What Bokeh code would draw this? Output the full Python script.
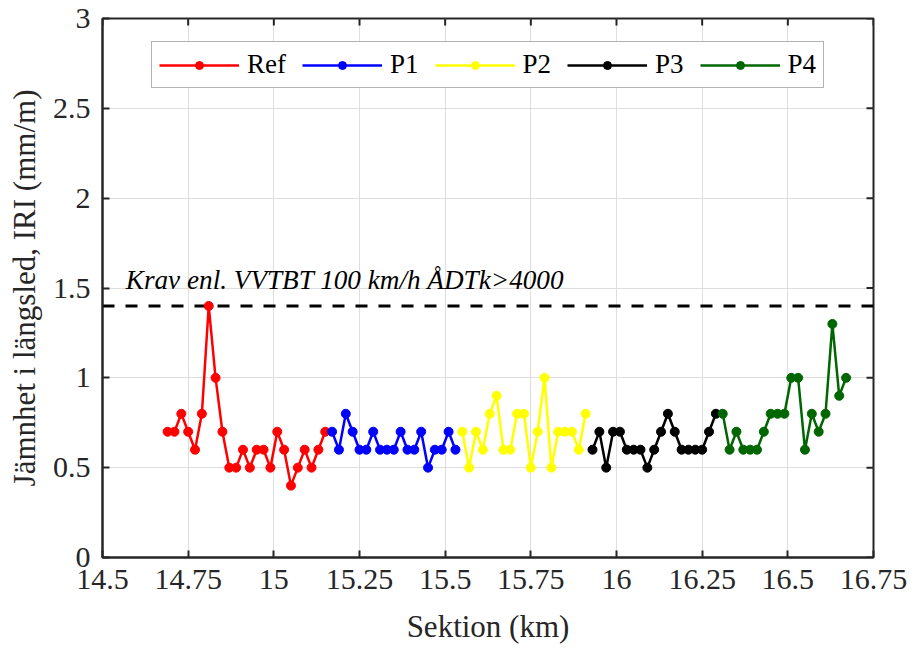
import math
from bokeh.plotting import figure
from bokeh.models import Range1d, FixedTicker, Label
from bokeh.embed import file_html
from bokeh.resources import INLINE

# ---- data ----
ref_x = [14.69, 14.71, 14.73, 14.75, 14.77, 14.79, 14.81, 14.83, 14.85, 14.87, 14.89, 14.91,
         14.93, 14.95, 14.97, 14.99, 15.01, 15.03, 15.05, 15.07, 15.09, 15.11, 15.13, 15.15]
ref_y = [0.7, 0.7, 0.8, 0.7, 0.6, 0.8, 1.4, 1.0, 0.7, 0.5, 0.5, 0.6,
         0.5, 0.6, 0.6, 0.5, 0.7, 0.6, 0.4, 0.5, 0.6, 0.5, 0.6, 0.7]

p1_x = [15.17, 15.19, 15.21, 15.23, 15.25, 15.27, 15.29, 15.31, 15.33, 15.35, 15.37, 15.39,
        15.41, 15.43, 15.45, 15.47, 15.49, 15.51, 15.53]
p1_y = [0.7, 0.6, 0.8, 0.7, 0.6, 0.6, 0.7, 0.6, 0.6, 0.6, 0.7, 0.6,
        0.6, 0.7, 0.5, 0.6, 0.6, 0.7, 0.6]

p2_x = [15.55, 15.57, 15.59, 15.61, 15.63, 15.65, 15.67, 15.69, 15.71, 15.73, 15.75, 15.77,
        15.79, 15.81, 15.83, 15.85, 15.87, 15.89, 15.91]
p2_y = [0.7, 0.5, 0.7, 0.6, 0.8, 0.9, 0.6, 0.6, 0.8, 0.8, 0.5, 0.7,
        1.0, 0.5, 0.7, 0.7, 0.7, 0.6, 0.8]

p3_x = [15.93, 15.95, 15.97, 15.99, 16.01, 16.03, 16.05, 16.07, 16.09, 16.11, 16.13, 16.15,
        16.17, 16.19, 16.21, 16.23, 16.25, 16.27, 16.29]
p3_y = [0.6, 0.7, 0.5, 0.7, 0.7, 0.6, 0.6, 0.6, 0.5, 0.6, 0.7, 0.8,
        0.7, 0.6, 0.6, 0.6, 0.6, 0.7, 0.8]

p4_x = [16.31, 16.33, 16.35, 16.37, 16.39, 16.41, 16.43, 16.45, 16.47, 16.49, 16.51, 16.53,
        16.55, 16.57, 16.59, 16.61, 16.63, 16.65, 16.67]
p4_y = [0.8, 0.6, 0.7, 0.6, 0.6, 0.6, 0.7, 0.8, 0.8, 0.8, 1.0, 1.0,
        0.6, 0.8, 0.7, 0.8, 1.3, 0.9, 1.0]

series_names = ["Ref", "P1", "P2", "P3", "P4"]
series_colors = ["#ff0000", "#0000ff", "#ffff00", "#000000", "#006600"]

threshold = 1.4
threshold_text = "Krav enl. VVTBT 100 km/h ÅDTk>4000"

x_ticks = [14.5, 14.75, 15.0, 15.25, 15.5, 15.75, 16.0, 16.25, 16.5, 16.75]
x_tick_labels = ["14.5", "14.75", "15", "15.25", "15.5", "15.75", "16", "16.25", "16.5", "16.75"]
y_ticks = [0, 0.5, 1, 1.5, 2, 2.5, 3]
y_tick_labels = ["0", "0.5", "1", "1.5", "2", "2.5", "3"]

x_label = "Sektion (km)"
y_label = "Jämnhet i längsled, IRI (mm/m)"

FONT = "Liberation Serif"
AX = "#262626"

p = figure(width=916, height=648, output_backend="svg", toolbar_location=None,
           x_range=Range1d(x_ticks[0], x_ticks[-1]), y_range=Range1d(y_ticks[0], y_ticks[-1]),
           min_border_left=102, min_border_right=43, min_border_top=18, min_border_bottom=91)
p.background_fill_color = "white"
p.border_fill_color = "white"
p.outline_line_color = AX
p.outline_line_width = 2

# threshold line (under the data)
p.line([x_ticks[0], x_ticks[-1]], [threshold, threshold], line_color="black",
       line_width=3, line_dash="12 11")

xs = [ref_x, p1_x, p2_x, p3_x, p4_x]
ys = [ref_y, p1_y, p2_y, p3_y, p4_y]
for x, y, name, col in zip(xs, ys, series_names, series_colors):
    p.line(x, y, line_color=col, line_width=2.5, legend_label=name)
    p.scatter(x, y, size=9, fill_color=col, line_color=col, legend_label=name)

# inward ticks on the top and right edges of the box
p.scatter(x_ticks, [y_ticks[-1]] * len(x_ticks), marker="dash", angle=math.pi / 2,
          size=14, line_color=AX, line_width=2)
p.scatter([x_ticks[-1]] * len(y_ticks), y_ticks, marker="dash",
          size=14, line_color=AX, line_width=2)

# axes styling
for ax in [p.xaxis[0], p.yaxis[0]]:
    ax.axis_line_color = AX
    ax.axis_line_width = 2
    ax.major_tick_line_color = AX
    ax.major_tick_line_width = 2
    ax.major_tick_in = 7
    ax.major_tick_out = 0
    ax.minor_tick_in = 0
    ax.minor_tick_out = 0
    ax.major_label_text_font = FONT
    ax.major_label_text_font_size = "30px"
    ax.major_label_text_color = AX
    ax.axis_label_text_font = FONT
    ax.axis_label_text_font_size = "31px"
    ax.axis_label_text_font_style = "normal"
    ax.axis_label_text_color = AX

p.xaxis[0].ticker = FixedTicker(ticks=x_ticks)
p.xaxis[0].major_label_overrides = {t: l for t, l in zip(x_ticks, x_tick_labels)}
p.yaxis[0].ticker = FixedTicker(ticks=y_ticks)
p.yaxis[0].major_label_overrides = {t: l for t, l in zip(y_ticks, y_tick_labels)}
p.xaxis[0].axis_label = x_label
p.yaxis[0].axis_label = y_label
p.xaxis[0].major_label_standoff = 12
p.yaxis[0].major_label_standoff = 12
p.xaxis[0].axis_label_standoff = 17
p.yaxis[0].axis_label_standoff = 8

p.xgrid.ticker = FixedTicker(ticks=x_ticks)
p.ygrid.ticker = FixedTicker(ticks=y_ticks)
for g in [p.xgrid[0], p.ygrid[0]]:
    g.grid_line_color = "#dedede"
    g.grid_line_width = 1

p.add_layout(Label(x=14.568, y=1.545, text=threshold_text, text_font=FONT,
                   text_font_size="27.2px", text_font_style="italic",
                   text_color="black", text_baseline="alphabetic"))

lg = p.legend[0]
lg.orientation = "horizontal"
lg.location = (49, 469)
lg.label_text_font = FONT
lg.label_text_font_size = "27px"
lg.label_text_color = "black"
lg.glyph_width = 80
lg.glyph_height = 20
lg.label_standoff = 8
lg.spacing = 16
lg.padding = 7
lg.margin = 0
lg.border_line_color = "#666666"
lg.border_line_width = 1.5
lg.background_fill_color = "white"
lg.background_fill_alpha = 1

open("out.html", "w").write(file_html(p, INLINE))
